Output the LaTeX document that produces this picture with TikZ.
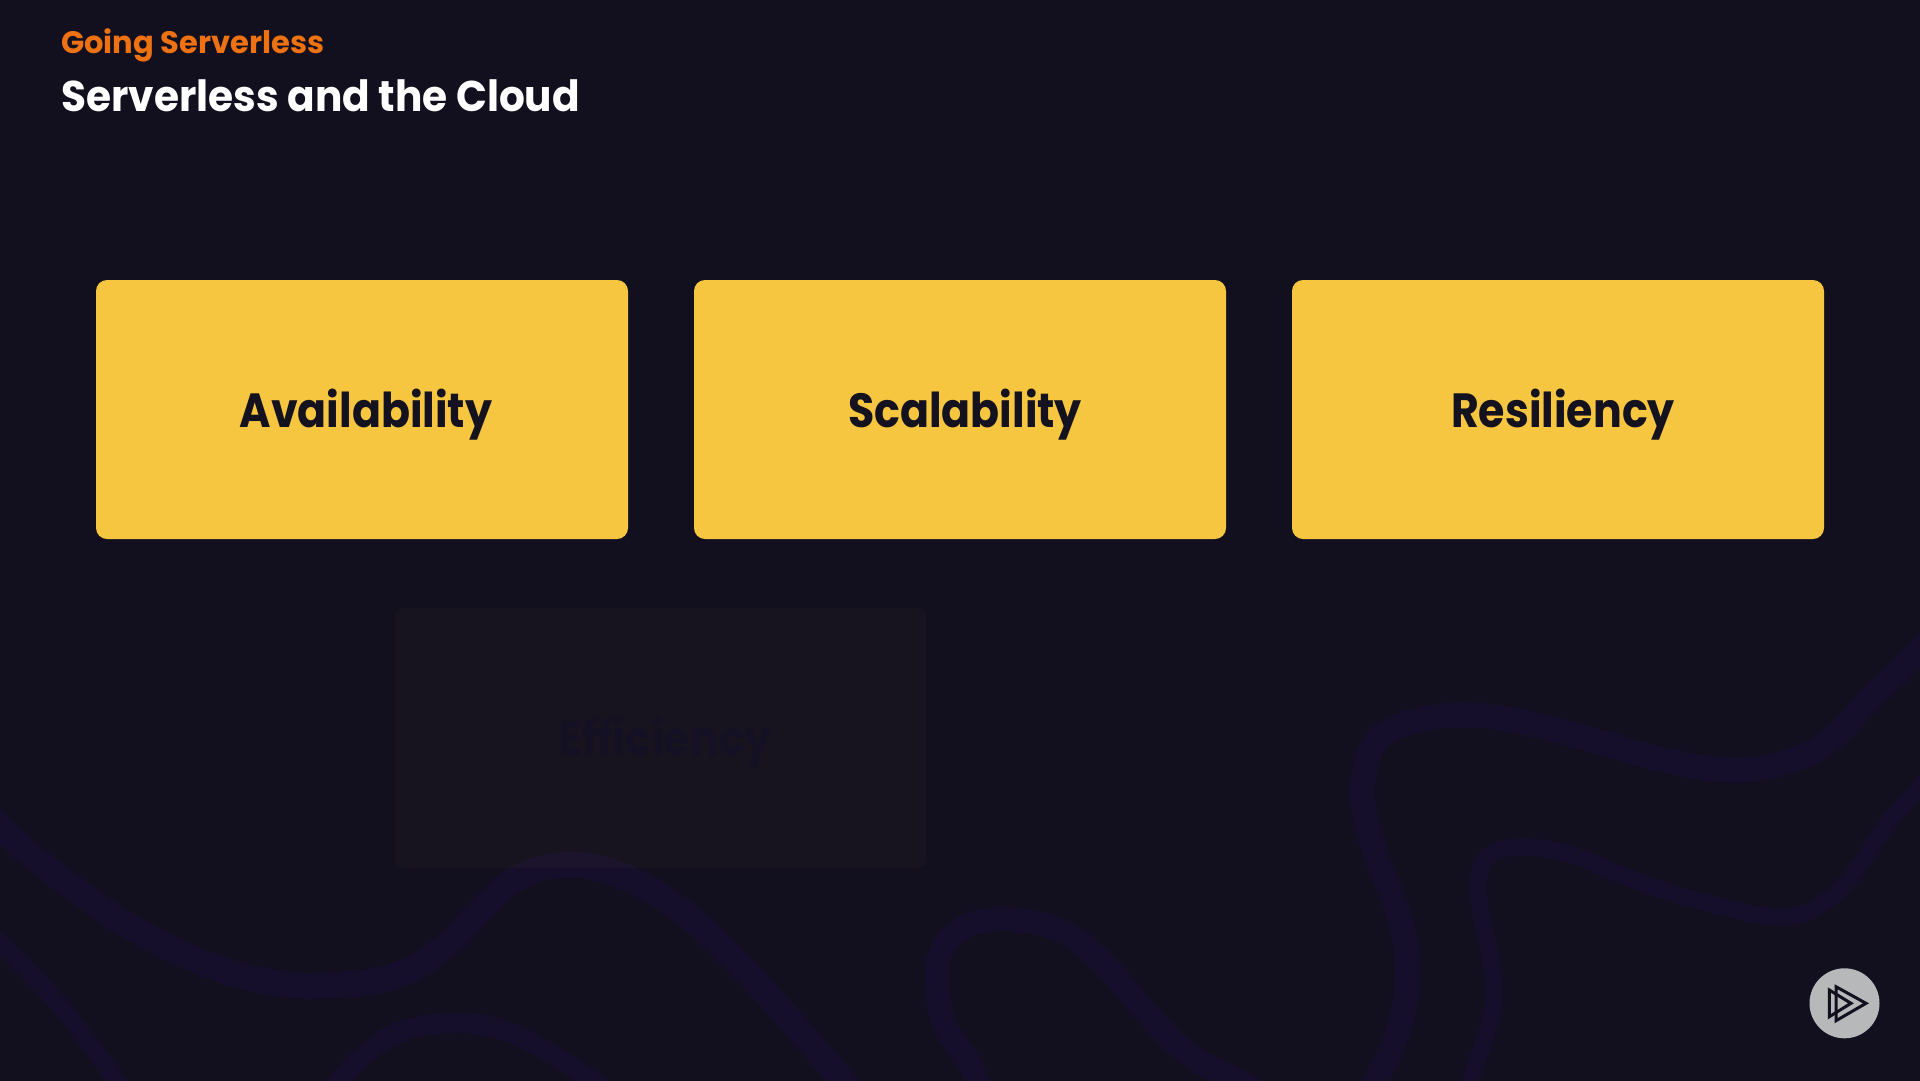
\documentclass[tikz,border=0pt]{standalone}
\usepackage{fontspec}
\setmainfont{Poppins}
\newfontfamily\cardfont[FakeStretch=0.89]{Poppins}
\newfontfamily\titlefont[FakeStretch=0.945]{Poppins}
\newfontfamily\sectfont[FakeStretch=0.985]{Poppins}
\newcommand{\cardlabel}[2]{\hspace{#1pt}\raisebox{-17.5pt}[0pt][0pt]{#2}}
\definecolor{bgc}{HTML}{12101F}
\definecolor{wave}{HTML}{150F2C}
\definecolor{boxy}{HTML}{F7C640}
\definecolor{ink}{HTML}{14121F}
\definecolor{orangec}{HTML}{EE7212}
\definecolor{ghosttext}{HTML}{141124}
\definecolor{badge}{HTML}{B6B8BA}
\tikzset{
  x=1pt,y=-1pt,
  wavy/.style={draw=wave,line cap=round,line join=round},
  card/.style={fill=boxy,rounded corners=11pt,minimum width=532pt,minimum height=259pt,inner sep=0pt,
     font=\cardfont\fontsize{48}{48}\selectfont\bfseries,text=ink},
  ghostcard/.style={fill=boxy,fill opacity=0.027,text opacity=1,rounded corners=8pt,minimum width=531pt,minimum height=260pt,inner sep=0pt,
     font=\cardfont\fontsize{48}{48}\selectfont\bfseries,text=ghosttext},
  tri/.style={draw=bgc,line width=3pt,line join=miter},
}
\begin{document}
\begin{tikzpicture}
\useasboundingbox (0,0) rectangle (1920,1080);
\fill[bgc] (-10,-10) rectangle (1930,1090);
\begin{scope}
\clip (-10,-10) rectangle (1930,1090);
\draw[wavy,line width=26pt] plot[smooth,tension=0.7] coordinates {(-25,800) (0,827) (37,860) (80,893) (141,933) (214,967) (276,983) (331,985) (392,977) (441,950) (484,907) (520,877) (570,865) (625,877) (680,910) (735,960) (790,1020) (842,1080) (870,1115)};
\draw[wavy,line width=18pt] plot[smooth,tension=0.7] coordinates {(-20,925) (0,943) (61,1007) (116,1080) (135,1110)};
\draw[wavy,line width=20pt] plot[smooth,tension=0.7] coordinates {(320,1110) (340,1080) (367,1053) (398,1033) (447,1023) (496,1028) (539,1047) (591,1080) (625,1110)};
\draw[wavy,line width=24pt] plot[smooth,tension=0.7] coordinates {(990,1115) (970,1065) (945,1025) (937,980) (942,950) (960,930) (984,921) (1015,920) (1064,932) (1107,967) (1144,1010) (1187,1053) (1236,1080) (1280,1105)};
\draw[wavy,line width=25pt] plot[smooth,tension=0.7] coordinates {(1365,1115) (1376,1080) (1391,1050) (1404,1007) (1407,957) (1396,907) (1376,855) (1364,810) (1364,775) (1379,738) (1419,720) (1468,715) (1523,722) (1603,743) (1664,760) (1732,770) (1787,762) (1830,740) (1872,697) (1920,650) (1950,615)};
\draw[wavy,line width=17pt] plot[smooth,tension=0.7] coordinates {(1462,1115) (1471,1080) (1493,1007) (1490,957) (1480,907) (1480,873) (1493,853) (1529,847) (1578,857) (1634,880) (1707,903) (1781,917) (1823,903) (1854,873) (1885,827) (1920,787) (1950,750)};
\end{scope}
\node[ghostcard] (efficiency) at (660.5,738) {\cardlabel{10}{Efficiency}};
\node[card] (availability) at (362,409.5) {\cardlabel{8}{Availability}};
\node[card] (scalability) at (960,409.5) {\cardlabel{10}{Scalability}};
\node[card] (resiliency) at (1558,409.5) {\cardlabel{10}{Resiliency}};
\node[anchor=base west,inner sep=0pt,text=orangec,font=\sectfont\fontsize{31}{31}\selectfont\bfseries] (section) at (61,53.5) {Going Serverless};
\node[anchor=base west,inner sep=0pt,text=white,font=\titlefont\fontsize{43}{43}\selectfont\bfseries] (title) at (61,111) {Serverless and the Cloud};
\fill[badge] (1844.5,1003.3) circle (35);
\draw[tri] (1836,986.7) -- (1836,1020.7) -- (1866,1003.3) -- cycle;
\draw[tri] (1829.3,990) -- (1829.3,1016.7) -- (1851,1003.3) -- cycle;
\end{tikzpicture}
\end{document}
